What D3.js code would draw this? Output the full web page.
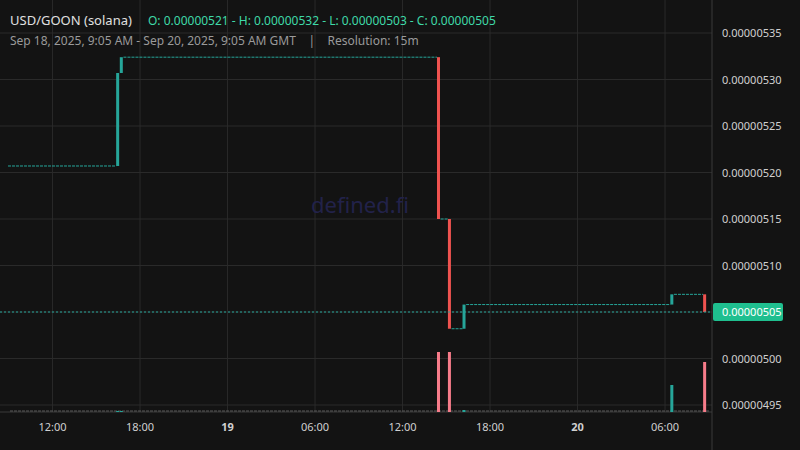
<!DOCTYPE html>
<html><head><meta charset="utf-8">
<script src="https://cdn.jsdelivr.net/npm/d3@7"></script>
<style>
body{margin:0;background:#131313;}
text{font-family:"Noto Sans",sans-serif;white-space:pre;}
</style></head>
<body><div id="chart"></div>
<script>
// price steps (15m candles where price moved)
var candleTimes = ["2025-09-18T16:30Z","2025-09-18T16:45Z","2025-09-19T14:30Z","2025-09-19T15:15Z","2025-09-19T16:15Z","2025-09-20T06:30Z","2025-09-20T08:45Z"];
var candleOpen  = [5.207e-6, 5.307e-6, 5.324e-6, 5.150e-6, 5.032e-6, 5.058e-6, 5.069e-6];
var candleClose = [5.307e-6, 5.324e-6, 5.150e-6, 5.032e-6, 5.058e-6, 5.069e-6, 5.050e-6];
var candleVol   = [1, 1, 60, 60, 2, 27, 50];
var startLevel = 5.207e-6;
var lastPrice = 5.05e-6;
var yTicks = [5.35e-6,5.30e-6,5.25e-6,5.20e-6,5.15e-6,5.10e-6,5.05e-6,5.00e-6,4.95e-6];

var W = 800, H = 450, plotR = 712, plotB = 412;
var t0 = new Date("2025-09-18T09:05Z"), t1 = new Date("2025-09-20T09:05Z");
var x = d3.scaleUtc().domain([t0, t1]).range([10, 710]);
var y = d3.scaleLinear().domain([4.95e-6, 5.35e-6]).range([405, 33]);
var vy = d3.scaleLinear().domain([0, 60]).range([plotB, 352]);

var svg = d3.select("#chart").append("svg").attr("width", W).attr("height", H);
svg.append("rect").attr("width", W).attr("height", H).attr("fill", "#131313");

// grid
var xTicks = d3.utcHour.every(6).range(t0, t1);
svg.selectAll("line.vg").data(xTicks).enter().append("line")
	.attr("x1", function(d){ return x(d); }).attr("x2", function(d){ return x(d); })
	.attr("y1", 0).attr("y2", plotB).attr("stroke", "#2a2a2a");
svg.selectAll("line.hg").data(yTicks).enter().append("line")
	.attr("x1", 0).attr("x2", plotR).attr("y1", function(d){ return y(d); }).attr("y2", function(d){ return y(d); })
	.attr("stroke", "#2a2a2a");
svg.append("line").attr("x1", plotR).attr("x2", plotR).attr("y1", 0).attr("y2", H).attr("stroke", "#3a3a3a");
svg.append("line").attr("x1", 0).attr("x2", plotR).attr("y1", plotB).attr("y2", plotB).attr("stroke", "#3a3a3a");

// watermark
svg.append("text").attr("x", 360).attr("y", 213).attr("text-anchor", "middle")
	.attr("font-size", 22).attr("fill", "#22224a").text("defined.fi");

// flat segments between candles
var segs = [];
var prevT = t0, prevL = startLevel;
candleTimes.forEach(function(t, i){
	var d = new Date(t);
	segs.push({a: prevT, b: d, v: prevL});
	prevT = new Date(+d + 15*60000); prevL = candleClose[i];
});
svg.selectAll("line.seg").data(segs).enter().append("line")
	.attr("x1", function(d){ return x(d.a) - 2; }).attr("x2", function(d){ return x(d.b) - 2; })
	.attr("y1", function(d){ return y(d.v); }).attr("y2", function(d){ return y(d.v); })
	.attr("stroke", "#26a69a").attr("stroke-dasharray", "3,1");

// volume baseline ticks
svg.append("line").attr("x1", 10).attr("x2", 710).attr("y1", plotB - 1).attr("y2", plotB - 1)
	.attr("stroke", "#5a5a5a").attr("stroke-dasharray", "3,1");

var green = "#26a69a", red = "#ef5350";
var cw = 3;
var candles = candleTimes.map(function(t, i){
	return {t: new Date(t), o: candleOpen[i], c: candleClose[i], v: candleVol[i]};
});
svg.selectAll("rect.vol").data(candles).enter().append("rect")
	.attr("x", function(d){ return x(d.t) - 2; }).attr("width", cw)
	.attr("y", function(d){ return vy(d.v); }).attr("height", function(d){ return plotB - vy(d.v); })
	.attr("fill", function(d){ return d.c >= d.o ? green : "#f77c8a"; });
svg.selectAll("rect.c").data(candles).enter().append("rect")
	.attr("x", function(d){ return x(d.t) - 2; }).attr("width", cw)
	.attr("y", function(d){ return y(Math.max(d.o, d.c)); })
	.attr("height", function(d){ return Math.abs(y(d.o) - y(d.c)); })
	.attr("fill", function(d){ return d.c >= d.o ? green : red; });

// last price line
svg.append("line").attr("x1", 0).attr("x2", plotR).attr("y1", y(lastPrice)).attr("y2", y(lastPrice))
	.attr("stroke", green).attr("stroke-dasharray", "2,2");

// y axis labels
svg.selectAll("text.yl").data(yTicks).enter().append("text")
	.attr("x", 722).attr("y", function(d){ return y(d) + 4; })
	.attr("font-size", 11).attr("fill", "#d0d0d0")
	.text(function(d){ return d.toFixed(8); });
svg.append("rect").attr("x", 713).attr("y", y(lastPrice) - 9).attr("width", 70).attr("height", 18)
	.attr("rx", 2).attr("fill", "#1fbf8f");
svg.append("text").attr("x", 722).attr("y", y(lastPrice) + 4).attr("font-size", 11)
	.attr("fill", "#ffffff").text(lastPrice.toFixed(8));

// x axis labels
svg.selectAll("text.xl").data(xTicks).enter().append("text")
	.attr("x", function(d){ return x(d); }).attr("y", 431).attr("text-anchor", "middle")
	.attr("font-size", 11).attr("fill", "#d0d0d0")
	.attr("font-weight", function(d){ return d.getUTCHours() === 0 ? "bold" : "normal"; })
	.text(function(d){ return d.getUTCHours() === 0 ? d3.utcFormat("%-d")(d) : d3.utcFormat("%H:%M")(d); });

// header
svg.append("text").attr("x", 10).attr("y", 25).attr("font-size", 13).attr("fill", "#e0e0e0")
	.text("USD/GOON (solana)");
svg.append("text").attr("x", 148).attr("y", 25).attr("font-size", 12).attr("fill", "#3fd9a8")
	.text("O: 0.00000521 - H: 0.00000532 - L: 0.00000503 - C: 0.00000505");
svg.append("text").attr("x", 10).attr("y", 45).attr("font-size", 12).attr("fill", "#9a9a9a")
	.text("Sep 18, 2025, 9:05 AM - Sep 20, 2025, 9:05 AM GMT    |    Resolution: 15m");
</script>
</body></html>
